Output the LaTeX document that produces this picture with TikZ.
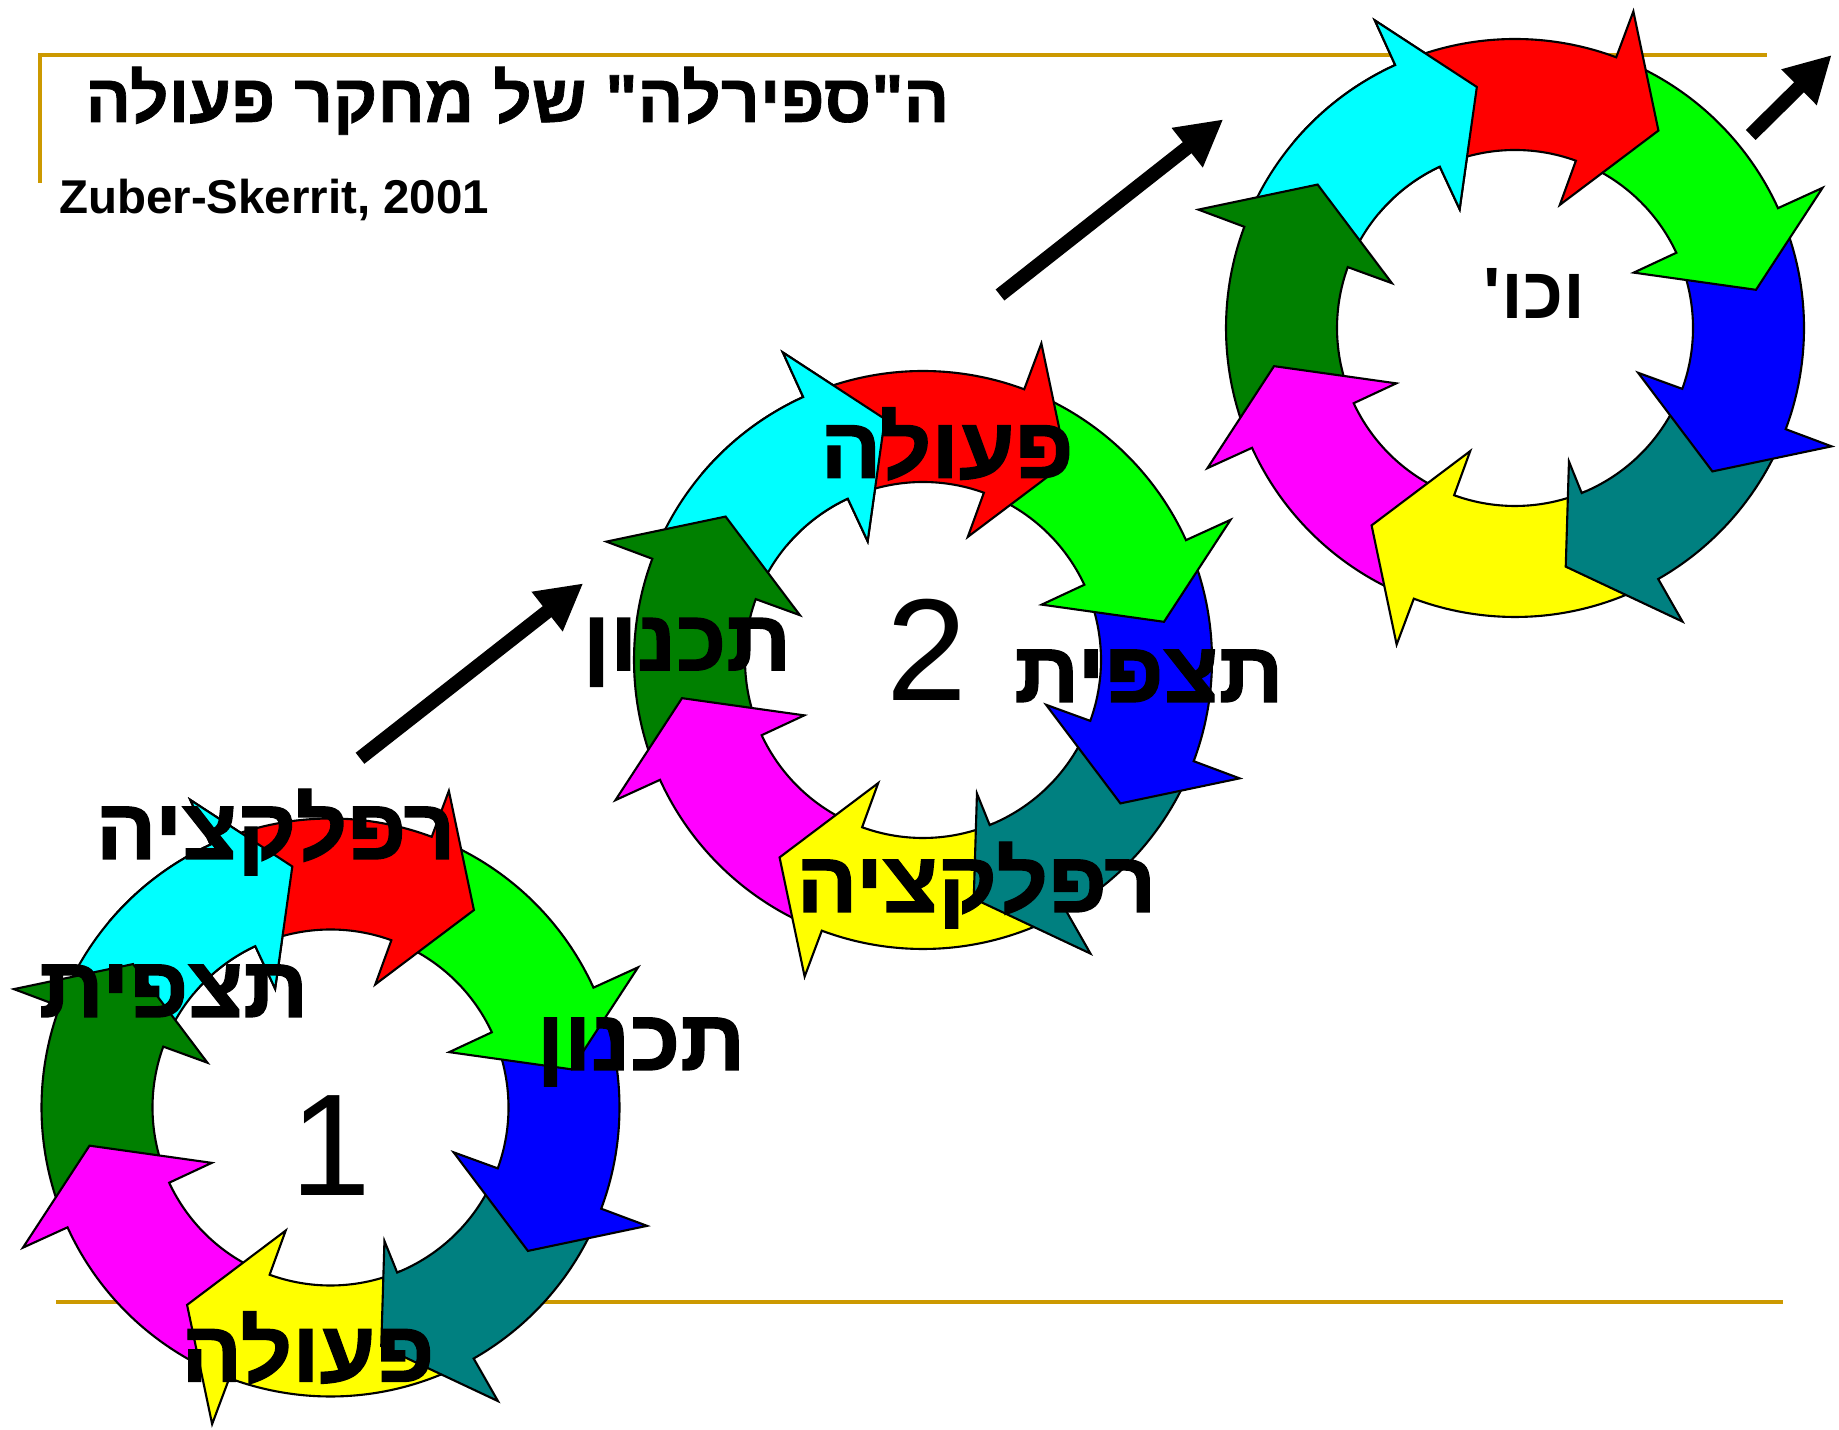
\documentclass[tikz,border=0pt]{standalone}
\usepackage{fontspec}
\setmainfont{Liberation Sans}
\newfontfamily\hebfont[Script=Hebrew,Ligatures=TeXOff]{Liberation Sans}
\newfontfamily\stagefont[Script=Hebrew,Ligatures=TeXOff,FakeBold=1.6,FakeStretch=1.05]{Liberation Sans Bold}
\newfontfamily\titlefont[Script=Hebrew,Ligatures=TeXOff,FakeBold=1]{Liberation Sans Bold}
\TeXXeTstate=1
\usetikzlibrary{arrows.meta}

\definecolor{gold}{RGB}{204,153,0}
\definecolor{ringred}{RGB}{255,0,0}
\definecolor{ringlime}{RGB}{0,255,0}
\definecolor{ringblue}{RGB}{0,0,255}
\definecolor{ringteal}{RGB}{0,128,128}
\definecolor{ringyellow}{RGB}{255,255,0}
\definecolor{ringmagenta}{RGB}{255,0,255}
\definecolor{ringgreen}{RGB}{0,128,0}
\definecolor{ringcyan}{RGB}{0,255,255}

\tikzset{
  ringpart/.style={draw=black, line width=0.6pt, line join=miter},
  stageword/.style={font=\stagefont\fontsize{24.5}{27}\selectfont,
    inner sep=0pt, anchor=base},
  roundno/.style={font=\fontsize{41.3}{44}\selectfont, inner sep=0pt, anchor=base},
  bigarrow/.style={line width=4pt, -{Triangle[length=0.46cm,width=0.47cm]}},
  goldline/.style={draw=gold, line width=1.1pt}
}

% one curved arrow of a ring:
% #1 = outer end of the head base, #2 = inner end of it, #3 = tip angle,
% #4 = inner barb radius, #5 = colour
\newcommand{\ringpiece}[5]{%
  \filldraw[ringpart, fill=#5]
    (#2+43:2.89) arc[start angle=#2+43, end angle=#1, radius=2.89]
    -- (#1:3.38) -- (#3:2.44) -- (#2:#4) -- (#2:1.78)
    arc[start angle=#2, end angle=#2+43, radius=1.78] -- cycle;}

% eight arrows round one centre
\newcommand{\spiralring}[1]{%
  \begin{scope}[shift={(#1)}]
    \foreach \oa/\ia/\ta/\br/\col in {-245.5/-245/-261/1.31/ringcyan,
        -200.5/-200/-216/1.31/ringgreen, -155.5/-155/-171/1.31/ringmagenta,
        -110.5/-110/-126/1.31/ringyellow, -60.3/-68/-78/1.44/ringteal,
        -20.5/-20/-36/1.31/ringblue, 24.5/25/9/1.31/ringlime,
        69.5/70/54/1.31/ringred}
      {\ringpiece{\oa}{\ia}{\ta}{\br}{\col}}
    \scope % cyan head back on top of the red tail
    \clip (0,0) -- (85:5) -- (112:5) -- (140:5) -- cycle;
    \ringpiece{114.5}{115}{99}{1.31}{ringcyan}
    \endscope
  \end{scope}}

\begin{document}
\begin{tikzpicture}
\useasboundingbox (0,0) rectangle (18.39,14.29);

% Frame lines
\draw[goldline] (0.40,12.46) -- (0.40,13.74) -- (17.67,13.74);
\draw[goldline] (0.56,1.27) -- (17.83,1.27);

% Ring centres
\coordinate (c1) at (3.305,3.215);
\coordinate (c2) at (9.23,7.69);
\coordinate (c3) at (15.15,11.01);

\spiralring{c1}
\spiralring{c2}
\spiralring{c3}

% Title and source
\node [font=\titlefont\fontsize{19.3}{21}\selectfont,
	inner sep=0pt,
	anchor=base east] (title) at (9.50,13.07)
	{\beginR ה"ספירלה" של מחקר פעולה\endR};
\node [font=\bfseries\fontsize{13.5}{15}\selectfont,
	inner sep=0pt,
	anchor=base west] (source) at (0.586,12.15) {Zuber-Skerrit, 2001};

% Ring 1
\node [roundno] (no1) at (3.31,2.33) {1};
\node [stageword] (refl1) at (2.756,5.70) {\beginR רפלקציה\endR};
\node [stageword] (obs1) at (1.737,4.12) {\beginR תצפית\endR};
\node [stageword] (plan1) at (6.41,3.59) {\beginR תכנון\endR};
\node [stageword] (act1) at (3.078,0.475) {\beginR פעולה\endR};

% Ring 2
\node [roundno] (no2) at (9.265,7.28) {2};
\node [stageword] (act2) at (9.47,9.513) {\beginR פעולה\endR};
\node [stageword] (plan2) at (6.87,7.587) {\beginR תכנון\endR};
\node [stageword] (obs2) at (11.49,7.27) {\beginR תצפית\endR};
\node [stageword] (refl2) at (9.764,5.17) {\beginR רפלקציה\endR};

% Ring 3
\node [font=\hebfont\bfseries\fontsize{20.7}{23}\selectfont,
	inner sep=0pt,
	anchor=base] (etc) at (15.345,11.10) {\beginR וכו'\endR};

% Arrows between the rings
\coordinate (up1s) at (3.60,6.707);
\coordinate (up1e) at (5.833,8.457);
\coordinate (up2s) at (10.00,11.34);
\coordinate (up2e) at (12.233,13.097);
\coordinate (up3s) at (17.507,12.94);
\coordinate (up3e) at (18.317,13.74);
\draw[bigarrow] (up1s) -- (up1e);
\draw[bigarrow] (up2s) -- (up2e);
\draw[bigarrow] (up3s) -- (up3e);

\end{tikzpicture}
\end{document}
